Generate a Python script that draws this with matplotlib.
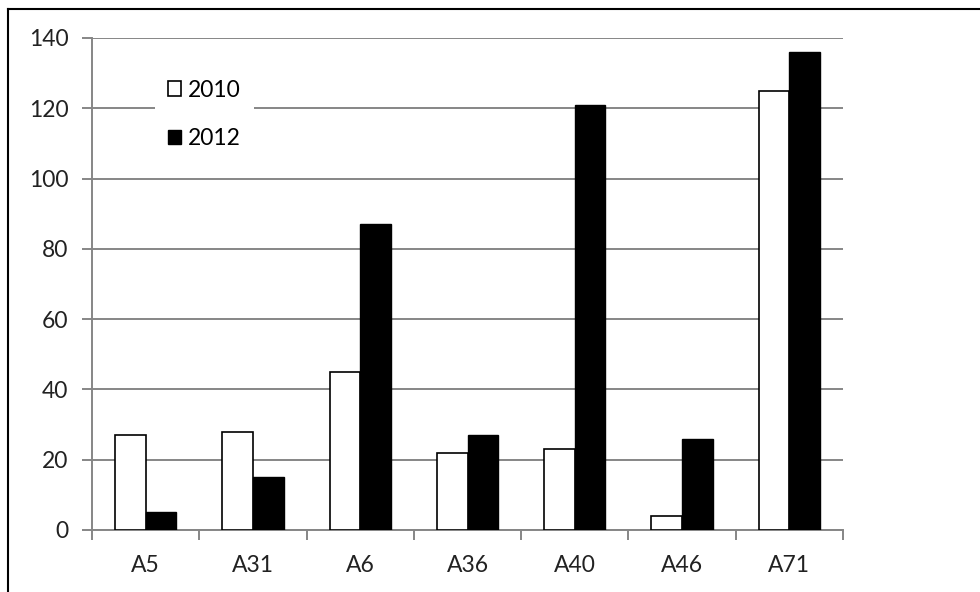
import matplotlib.pyplot as plt
import numpy as np
from matplotlib.lines import Line2D

categories = ["A5", "A31", "A6", "A36", "A40", "A46", "A71"]
values_2010 = [27, 28, 45, 22, 23, 4, 125]
values_2012 = [5, 15, 87, 27, 121, 26, 136]
series_labels = ["2010", "2012"]

W, H = 980, 592
plt.rcParams["font.family"] = ["Lato", "DejaVu Sans"]

fig = plt.figure(figsize=(W / 100, H / 100), dpi=100)
ax = fig.add_axes([92 / W, (H - 530) / H, (843 - 92) / W, (530 - 38) / H])

x = np.arange(len(categories))
bw = 0.286
grey = "#868686"
fs = 16.5

ax.bar(x - bw / 2, values_2010, width=bw, color="white", edgecolor="black",
       linewidth=1.2, label=series_labels[0], zorder=3)
ax.bar(x + bw / 2, values_2012, width=bw, color="black", edgecolor="black",
       linewidth=1.0, label=series_labels[1], zorder=3)

ax.set_xlim(-0.5, len(categories) - 0.5)
ax.set_ylim(0, 140)
ax.set_yticks(np.arange(0, 141, 20))
ax.yaxis.grid(True, color=grey, linewidth=1.4)
ax.set_axisbelow(True)

ax.set_xticks(x)
ax.set_xticklabels(categories)
ax.set_xticks(np.arange(len(categories) + 1) - 0.5, minor=True)
ax.tick_params(axis="x", which="major", length=0, pad=18, labelsize=fs,
               colors="#222222")
ax.tick_params(axis="x", which="minor", length=7, width=1.4, color=grey)
ax.tick_params(axis="y", length=7, width=1.4, color=grey, pad=10,
               labelsize=fs, labelcolor="#222222")

for side in ("top", "right"):
    ax.spines[side].set_visible(False)
for side in ("left", "bottom"):
    ax.spines[side].set_color(grey)
    ax.spines[side].set_linewidth(1.4)

# legend sits on a white box that breaks the 120 gridline
leg = ax.legend(loc="upper left", bbox_to_anchor=(155 / W, (H - 67) / H),
                bbox_transform=fig.transFigure, frameon=True, fancybox=False,
                facecolor="white", edgecolor="none", framealpha=1,
                borderaxespad=0, borderpad=0.55, fontsize=fs,
                handlelength=0.6, handleheight=0.6, handletextpad=0.3,
                labelspacing=1.2)
leg.set_zorder(4)

# outer frame (cut off at right and bottom edge)
fig.add_artist(Line2D([8 / W, 8 / W], [0, (H - 9) / H], color="black", lw=1.5))
fig.add_artist(Line2D([8 / W, 1], [(H - 9) / H, (H - 9) / H], color="black", lw=1.5))

fig.savefig("out.png", dpi=100)
